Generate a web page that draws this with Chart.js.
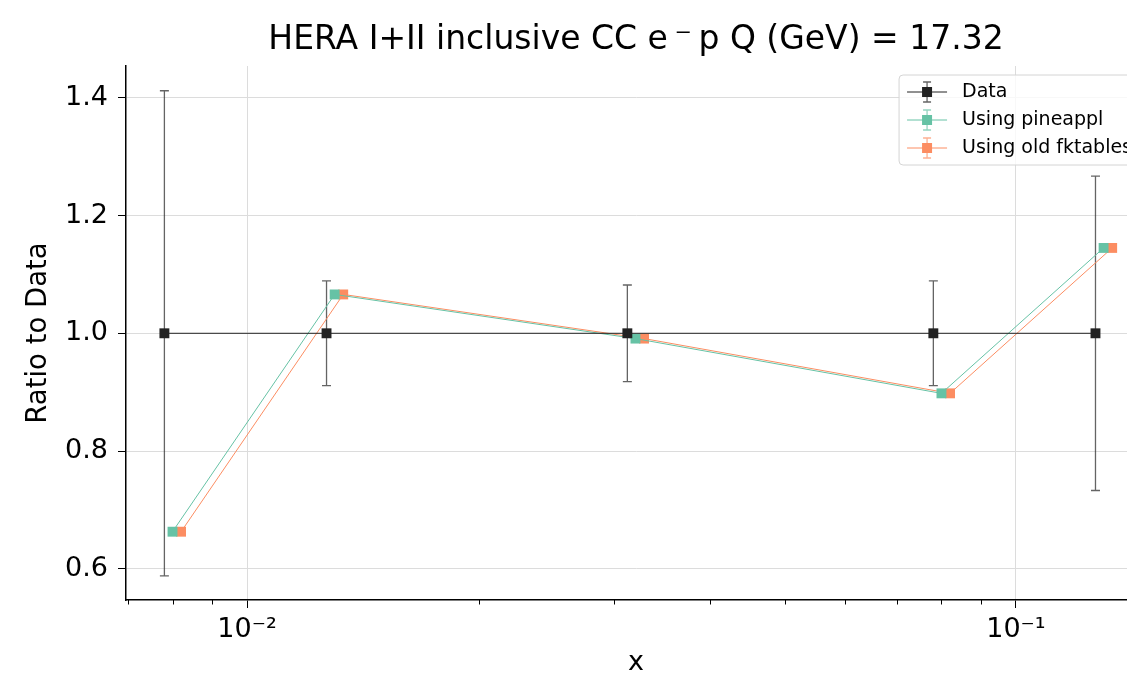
<!DOCTYPE html>
<html>
<head>
<meta charset="utf-8">
<script src="https://cdn.jsdelivr.net/npm/chart.js@4"></script>
<style>
	html, body { margin: 0; padding: 0; background: #fff; overflow: hidden; }
	#wrap { width: 1160px; height: 675px; }
</style>
</head>
<body>
<div id="wrap"><canvas id="chart-ratio" width="1160" height="675"></canvas></div>
<script>
// Data
const xValues = [0.008, 0.013, 0.032, 0.08, 0.13];
const dataRatio = [1.0, 1.0, 1.0, 1.0, 1.0];
const dataErr = [0.412, 0.089, 0.082, 0.089, 0.267];
const pineapplRatio = [0.663, 1.066, 0.991, 0.898, 1.145];
const pineapplErr = [0, 0, 0, 0, 0];
const fktablesRatio = [0.663, 1.066, 0.991, 0.898, 1.145];
const fktablesErr = [0, 0, 0, 0, 0];

// small x offsets so the series don't sit on top of each other
const dataShift = 0.976;
const fktablesShift = 1.026;

const yTicks = [0.6, 0.8, 1.0, 1.2, 1.4];
const xTicks = [0.007, 0.008, 0.009, 0.01, 0.02, 0.03, 0.04, 0.05, 0.06, 0.07, 0.08, 0.09, 0.1];

const FONT = 'DejaVu Sans';
const GRID = '#dcdcdc';

function points(xs, ys, shift) {
	return xs.map((x, i) => ({ x: x * shift, y: ys[i] }));
}

function isDecade(v) {
	const l = Math.log10(v);
	return Math.abs(l - Math.round(l)) < 1e-9;
}

const supers = { '-': '\u207B', '1': '\u00B9', '2': '\u00B2', '3': '\u00B3' };

// error bars, drawn under the markers
const errorBars = {
	id: 'errorBars',
	beforeDatasetsDraw(chart) {
		const { ctx, scales } = chart;
		chart.data.datasets.forEach((ds) => {
			if (!ds.errors) return;
			ctx.save();
			ctx.strokeStyle = ds.errorColor;
			ctx.lineWidth = 1.3;
			ds.data.forEach((p, i) => {
				const e = ds.errors[i];
				if (!e) return;
				const px = scales.x.getPixelForValue(p.x);
				const top = scales.y.getPixelForValue(p.y + e);
				const bot = scales.y.getPixelForValue(p.y - e);
				ctx.beginPath();
				ctx.moveTo(px, top);
				ctx.lineTo(px, bot);
				ctx.moveTo(px - 4.5, top);
				ctx.lineTo(px + 4.5, top);
				ctx.moveTo(px - 4.5, bot);
				ctx.lineTo(px + 4.5, bot);
				ctx.stroke();
			});
			ctx.restore();
		});
	},
};

// short minor ticks on the log axis
const minorTicks = {
	id: 'minorTicks',
	afterDraw(chart) {
		const { ctx, scales } = chart;
		const bottom = chart.chartArea.bottom;
		ctx.save();
		ctx.strokeStyle = '#000';
		ctx.lineWidth = 1;
		scales.x.ticks.forEach((t) => {
			if (t.major) return;
			const px = Math.round(scales.x.getPixelForValue(t.value)) + 0.5;
			ctx.beginPath();
			ctx.moveTo(px, bottom);
			ctx.lineTo(px, bottom + 4.5);
			ctx.stroke();
		});
		ctx.restore();
	},
};

// matplotlib style legend with errorbar handles
const mplLegend = {
	id: 'mplLegend',
	afterDatasetsDraw(chart) {
		const { ctx, chartArea } = chart;
		const sets = chart.data.datasets;
		ctx.save();
		ctx.font = '19px "' + FONT + '"';
		const textW = Math.max(...sets.map((d) => ctx.measureText(d.label).width));
		const w = textW + 71;
		const h = 90;
		const right = chartArea.right - 6;
		const left = right - w;
		const top = chartArea.top + 9;

		ctx.beginPath();
		ctx.roundRect(left, top, w, h, 4);
		ctx.fillStyle = 'rgba(255,255,255,0.8)';
		ctx.fill();
		ctx.strokeStyle = '#d4d4d4';
		ctx.lineWidth = 1;
		ctx.stroke();

		sets.forEach((ds, i) => {
			const cy = top + 17 + i * 28;
			const hx = left + 28;
			ctx.strokeStyle = ds.borderColor;
			ctx.lineWidth = 1;
			ctx.beginPath();
			ctx.moveTo(left + 8, cy);
			ctx.lineTo(left + 48, cy);
			ctx.stroke();
			ctx.strokeStyle = ds.errorColor;
			ctx.lineWidth = 1.3;
			ctx.beginPath();
			ctx.moveTo(hx, cy - 10);
			ctx.lineTo(hx, cy + 10);
			ctx.moveTo(hx - 4, cy - 10);
			ctx.lineTo(hx + 4, cy - 10);
			ctx.moveTo(hx - 4, cy + 10);
			ctx.lineTo(hx + 4, cy + 10);
			ctx.stroke();
			ctx.fillStyle = ds.pointBackgroundColor;
			ctx.fillRect(hx - 5, cy - 5, 10, 10);
			ctx.fillStyle = '#000';
			ctx.textBaseline = 'middle';
			ctx.textAlign = 'left';
			ctx.fillText(ds.label, left + 63, cy);
		});
		ctx.restore();
	},
};

Chart.defaults.color = '#000';
Chart.defaults.font.family = FONT;

!(function () {
	const ctx = document.getElementById('chart-ratio');

	new Chart(ctx, {
		type: 'line',
		data: {
			datasets: [
				{
					label: 'Data',
					data: points(xValues, dataRatio, dataShift),
					errors: dataErr,
					errorColor: 'rgba(34,34,34,0.7)',
					borderColor: '#222222',
					borderWidth: 1,
					pointStyle: 'rect',
					pointRadius: 7,
					pointBackgroundColor: '#222222',
					pointBorderWidth: 0,
				},
				{
					label: 'Using pineappl',
					data: points(xValues, pineapplRatio, 1),
					errors: pineapplErr,
					errorColor: 'rgba(102,194,165,0.7)',
					borderColor: '#66c2a5',
					borderWidth: 1,
					pointStyle: 'rect',
					pointRadius: 7,
					pointBackgroundColor: '#66c2a5',
					pointBorderWidth: 0,
				},
				{
					label: 'Using old fktables',
					data: points(xValues, fktablesRatio, fktablesShift),
					errors: fktablesErr,
					errorColor: 'rgba(252,141,98,0.7)',
					borderColor: '#fc8d62',
					borderWidth: 1,
					pointStyle: 'rect',
					pointRadius: 7,
					pointBackgroundColor: '#fc8d62',
					pointBorderWidth: 0,
				},
			],
		},
		options: {
			responsive: false,
			animation: false,
			layout: { padding: { left: 0, right: 14, top: 0, bottom: 0 } },
			scales: {
				x: {
					type: 'logarithmic',
					min: 0.00696,
					max: 0.1476,
					afterBuildTicks: (scale) => {
						scale.ticks = xTicks.map((v) => ({ value: v, major: isDecade(v) }));
					},
					afterFit: (scale) => {
						scale.height = 75;
					},
					ticks: {
						autoSkip: false,
						maxRotation: 0,
						padding: 6,
						font: { size: 27 },
						callback: (v) => {
							if (!isDecade(v)) return '';
							const e = String(Math.round(Math.log10(v)));
							return '10' + e.split('').map((c) => supers[c]).join('');
						},
					},
					grid: {
						color: (c) => (c.tick && c.tick.major ? GRID : 'rgba(0,0,0,0)'),
						tickColor: (c) => (c.tick && c.tick.major ? '#000' : 'rgba(0,0,0,0)'),
						tickLength: 8,
						lineWidth: 1,
					},
					border: { display: true, color: '#000', width: 1.5 },
					title: {
						display: true,
						text: 'x',
						font: { size: 27, lineHeight: 0.89 },
						padding: { top: 0, bottom: 0 },
					},
				},
				y: {
					type: 'linear',
					min: 0.547,
					max: 1.454,
					afterBuildTicks: (scale) => {
						scale.ticks = yTicks.map((v) => ({ value: v }));
					},
					afterFit: (scale) => {
						scale.width = 126;
					},
					ticks: {
						padding: 10,
						font: { size: 27 },
						callback: (v) => v.toFixed(1),
					},
					grid: {
						color: GRID,
						tickColor: '#000',
						tickLength: 8,
						lineWidth: 1,
					},
					border: { display: true, color: '#000', width: 1.5 },
					title: {
						display: true,
						text: 'Ratio to Data',
						font: { size: 27.5, lineHeight: 1 },
						padding: { top: 25.5, bottom: 0 },
					},
				},
			},
			plugins: {
				legend: { display: false },
				tooltip: { enabled: false },
				title: {
					display: true,
					fullSize: false,
					text: 'HERA I+II inclusive CC e\u2009\u207B\u2009p Q (GeV) = 17.32',
					color: '#000',
					font: { size: 33, weight: 'normal', lineHeight: 1.2 },
					padding: { top: 20.2, bottom: 6.2 },
				},
			},
		},
		plugins: [errorBars, minorTicks, mplLegend],
	});
})();
</script>
</body>
</html>
